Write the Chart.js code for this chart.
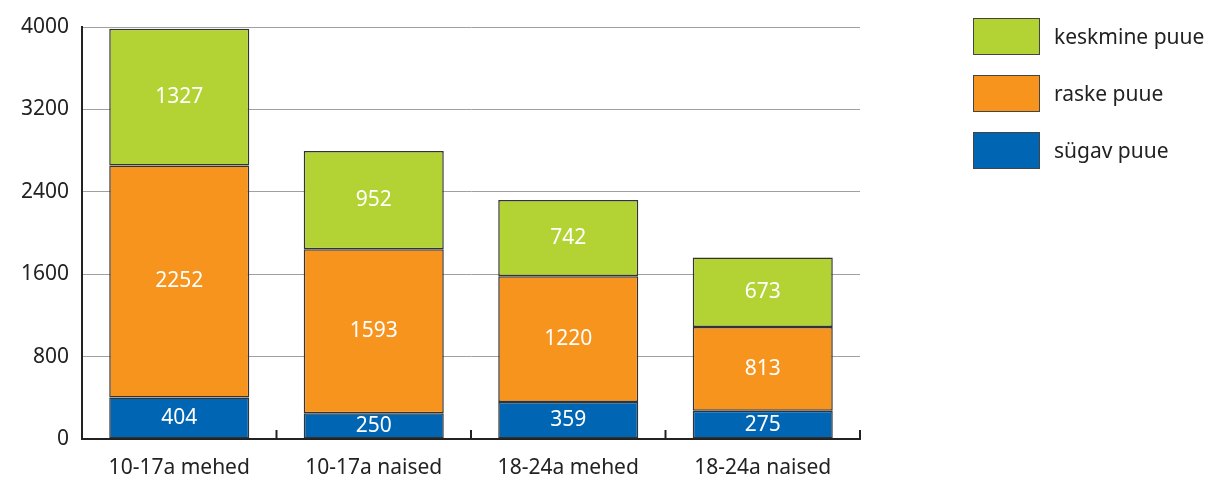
<!DOCTYPE html>
<html>
<head>
<meta charset="utf-8">
<script src="https://cdn.jsdelivr.net/npm/chart.js@4/dist/chart.umd.min.js"></script>
<style>
  body { margin: 0; background: #fff; font-family: "Noto Sans", sans-serif; }
  #wrap { position: relative; width: 1207px; height: 483px; }
  #legend { position: absolute; left: 973px; top: 18px; }
  .item { position: relative; height: 57px; }
  .box { position: absolute; left: 0; top: 0; width: 67px; height: 37px; border: 1.5px solid #444; box-sizing: border-box; }
  .txt { position: absolute; left: 81px; top: 4px; font-size: 21px; color: #222; white-space: nowrap; }
</style>
</head>
<body>
<div id="wrap">
  <canvas id="myChart" width="1207" height="483"></canvas>
  <div id="legend"></div>
</div>
<script>
const categories = ['10-17a mehed', '10-17a naised', '18-24a mehed', '18-24a naised']
const sygav = [404, 250, 359, 275]
const raske = [2252, 1593, 1220, 813]
const keskmine = [1327, 952, 742, 673]
const yTicks = [0, 800, 1600, 2400, 3200, 4000]

const datasets = [
  { label: 'sügav puue', data: sygav, backgroundColor: '#0065b3' },
  { label: 'raske puue', data: raske, backgroundColor: '#f7941e' },
  { label: 'keskmine puue', data: keskmine, backgroundColor: '#b3d335' }
].map(d => Object.assign(d, {
  borderColor: '#333',
  borderWidth: 1.5,
  borderSkipped: false,
  barPercentage: 0.72,
  categoryPercentage: 1
}))

// legend, top item is the top of the stack
const legendEl = document.getElementById('legend')
datasets.slice().reverse().forEach(d => {
  const item = document.createElement('div')
  item.className = 'item'
  item.innerHTML = '<div class="box" style="background:' + d.backgroundColor + '"></div><div class="txt">' + d.label + '</div>'
  legendEl.appendChild(item)
})

const barLabels = {
  id: 'barLabels',
  afterDatasetsDraw(chart) {
    const ctx = chart.ctx
    ctx.save()
    ctx.fillStyle = '#fff'
    ctx.font = '21px "Noto Sans"'
    ctx.textAlign = 'center'
    ctx.textBaseline = 'middle'
    chart.data.datasets.forEach((ds, i) => {
      chart.getDatasetMeta(i).data.forEach((bar, j) => {
        ctx.fillText(ds.data[j], bar.x, (bar.y + bar.base) / 2)
      })
    })
    ctx.restore()
  }
}

// small upward ticks on the x axis between categories
const upTicks = {
  id: 'upTicks',
  afterDraw(chart) {
    const x = chart.scales.x
    const bottom = chart.chartArea.bottom
    const ctx = chart.ctx
    ctx.save()
    ctx.strokeStyle = '#222'
    ctx.lineWidth = 2
    for (let i = 0; i < categories.length; i++) {
      const px = i < categories.length - 1
        ? (x.getPixelForTick(i) + x.getPixelForTick(i + 1)) / 2
        : chart.chartArea.right
      ctx.beginPath()
      ctx.moveTo(px, bottom)
      ctx.lineTo(px, bottom - 9)
      ctx.stroke()
    }
    ctx.restore()
  }
}

new Chart(document.getElementById('myChart'), {
  type: 'bar',
  data: { labels: categories, datasets: datasets },
  options: {
    responsive: false,
    animation: false,
    layout: { padding: { top: 27, right: 347, left: 0, bottom: 0 } },
    plugins: { legend: { display: false }, tooltip: { enabled: false } },
    scales: {
      x: {
        stacked: true,
        grid: { drawOnChartArea: false, drawTicks: false },
        border: { color: '#222', width: 2 },
        ticks: { color: '#222', font: { family: 'Noto Sans', size: 21 }, padding: 16 },
        afterFit: s => { s.height = 44 }
      },
      y: {
        stacked: true,
        min: 0,
        max: 4000,
        afterBuildTicks: s => { s.ticks = yTicks.map(v => ({ value: v })) },
        grid: { color: '#a0a0a0', lineWidth: 1, drawTicks: false },
        border: { color: '#222', width: 2 },
        ticks: {
          color: '#222',
          font: { family: 'Noto Sans', size: 21 },
          padding: 13,
          callback: v => String(v)
        },
        afterFit: s => { s.width = 82 }
      }
    }
  },
  plugins: [barLabels, upTicks]
})
</script>
</body>
</html>
